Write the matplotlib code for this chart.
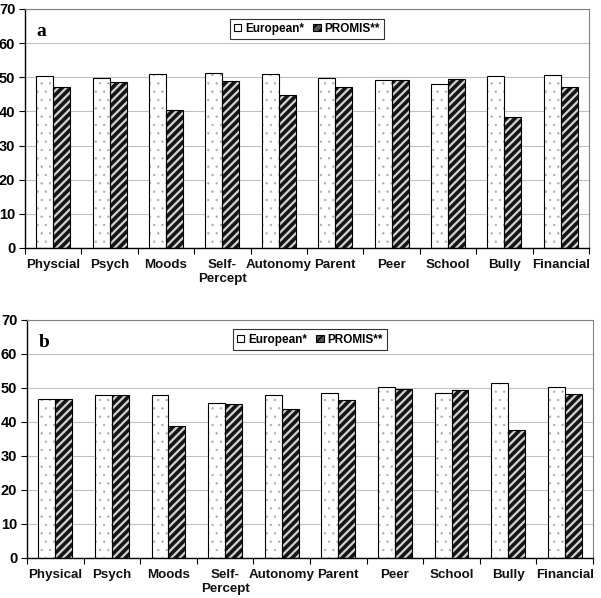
import matplotlib
matplotlib.use("Agg")
import matplotlib.pyplot as plt
from matplotlib.patches import Patch
import numpy as np

# Categories (panel a has the original's typo "Physcial")
cats_a = ["Physcial", "Psych", "Moods", "Self-\nPercept", "Autonomy", "Parent", "Peer", "School", "Bully", "Financial"]
cats_b = ["Physical", "Psych", "Moods", "Self-\nPercept", "Autonomy", "Parent", "Peer", "School", "Bully", "Financial"]

european_a = [50.4, 49.7, 50.9, 51.3, 50.9, 49.7, 49.1, 48.0, 50.3, 50.6]
promis_a = [47.1, 48.7, 40.4, 48.9, 44.7, 47.1, 49.1, 49.4, 38.4, 47.1]

european_b = [46.9, 47.8, 47.8, 45.7, 48.0, 48.6, 50.2, 48.6, 51.5, 50.2]
promis_b = [46.9, 48.0, 38.9, 45.4, 43.9, 46.5, 49.7, 49.4, 37.6, 48.3]

plt.rcParams["font.family"] = "Liberation Sans"
plt.rcParams["font.weight"] = "bold"

W = 0.30


def draw_panel(ax, cats, eur, prom, letter):
    x = np.arange(len(cats))
    # European: white with fine gray dots
    with plt.rc_context({"hatch.linewidth": 0.4}):
        ax.bar(x - W / 2, eur, W, color="white", edgecolor="#a8a8a8", hatch="..", linewidth=0, zorder=2)
    ax.bar(x - W / 2, eur, W, fill=False, edgecolor="black", linewidth=0.8, zorder=3)
    # PROMIS: dark diagonal stripes
    with plt.rc_context({"hatch.linewidth": 2.6}):
        ax.bar(x + W / 2, prom, W, color="#d0d0d0", edgecolor="#151515", hatch="////", linewidth=0, zorder=2)
    ax.bar(x + W / 2, prom, W, fill=False, edgecolor="black", linewidth=0.8, zorder=3)

    ax.set_xlim(-0.5, len(cats) - 0.5)
    ax.set_ylim(0, 70)
    ax.set_yticks(range(0, 71, 10))
    ax.yaxis.grid(True, color="#c0c0c0", linewidth=0.8, zorder=0)
    ax.set_axisbelow(True)
    ax.set_xticks(x)
    ax.set_xticklabels(cats, fontsize=9.6, fontweight="bold", color="#111111")
    ax.set_xticks(np.arange(-0.5, len(cats)), minor=True)
    ax.tick_params(axis="x", which="major", length=0, pad=8)
    ax.tick_params(axis="x", which="minor", length=4, direction="out", width=0.8)
    ax.tick_params(axis="y", length=4, direction="out", width=0.8, labelsize=10.5, pad=3)
    for lab in ax.get_yticklabels():
        lab.set_fontweight("bold")
    for s in ["top", "right"]:
        ax.spines[s].set_color("#808080")
        ax.spines[s].set_linewidth(0.8)
    for s in ["left", "bottom"]:
        ax.spines[s].set_linewidth(1.0)

    ax.text(0.02, 0.94, letter, transform=ax.transAxes, fontsize=14, fontweight="bold",
            family="Liberation Serif", va="top")

    with plt.rc_context({"hatch.linewidth": 1.2}):
        handles = [
            Patch(facecolor="white", edgecolor="black", linewidth=0.8, label="European*"),
            Patch(facecolor="#555555", edgecolor="black", hatch="////", linewidth=0.8, label="PROMIS**"),
        ]
    leg = ax.legend(handles=handles, loc="upper center", ncol=2, bbox_to_anchor=(0.5, 0.97),
                    frameon=True, fancybox=False, fontsize=8.5, handlelength=0.6, handleheight=0.6,
                    handletextpad=0.3, columnspacing=0.8, borderpad=0.35, borderaxespad=0.2)
    leg.get_frame().set_edgecolor("black")
    leg.get_frame().set_linewidth(0.8)
    for t in leg.get_texts():
        t.set_fontweight("bold")


fig = plt.figure(figsize=(6.01, 5.98), dpi=100)
ax_a = fig.add_axes([0.0416, 0.5853, 0.9384, 0.3997])
ax_b = fig.add_axes([0.0449, 0.0669, 0.9418, 0.3980])

draw_panel(ax_a, cats_a, european_a, promis_a, "a")
draw_panel(ax_b, cats_b, european_b, promis_b, "b")

fig.savefig("out.png", dpi=100)
